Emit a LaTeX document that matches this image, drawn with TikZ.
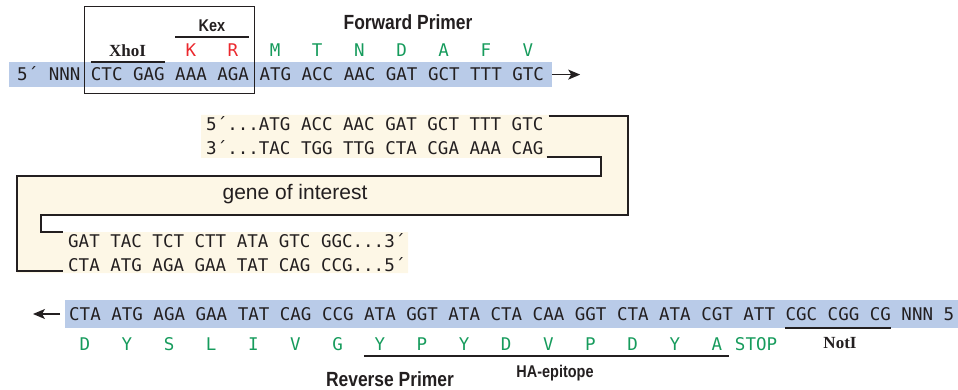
\documentclass[tikz,border=0pt]{standalone}
\usepackage{fontspec}
\setmainfont{Liberation Sans}
\newfontfamily\seqfont{DejaVu Sans Mono}
\newfontfamily\narrowfont[FakeStretch=0.85]{Liberation Sans}
\newfontfamily\enzymefont{Liberation Serif}
\usepackage{tikz}
\usetikzlibrary{arrows.meta}
\definecolor{bandblue}{RGB}{185,203,232}
\definecolor{cream}{RGB}{253,247,230}
\definecolor{aagreen}{RGB}{22,155,92}
\definecolor{aared}{RGB}{235,40,45}
\definecolor{ink}{RGB}{35,31,32}
\newcommand{\pch}{10.535}

\begin{document}
\begin{tikzpicture}[x=1pt, y=-1pt, >={Stealth[length=12pt,width=10pt,inset=3pt]}, ink,
	seq/.style={font=\seqfont\fontsize{17.5}{20}\selectfont, text=ink, inner sep=0pt, anchor=base west},
	band/.style={seq, fill=bandblue, inner xsep=8pt, text height=12.8pt, text depth=0pt},
	aa/.style={font=\seqfont\fontsize{17.5}{20}\selectfont, inner sep=0pt, anchor=base, text=aagreen},
	primer/.style={font=\narrowfont\bfseries\fontsize{20.5}{24}\selectfont, inner sep=0pt, anchor=base},
	tag/.style={font=\narrowfont\bfseries\fontsize{17}{20}\selectfont, inner sep=0pt, anchor=base},
	enzyme/.style={font=\enzymefont\bfseries\fontsize{17}{20}\selectfont, inner sep=0pt, anchor=base},
	strand/.style={line width=1.3pt},
	siteline/.style={line width=1.2pt}]
	\useasboundingbox (0,0) rectangle (958,390);

	% forward primer
	\node[band, inner ysep=6.1pt] (fwd) at (9,81) {5´ NNN CTC GAG AAA AGA ATG ACC AAC GAT GCT TTT GTC};
	\draw[->, line width=1.2pt] (fwd.east) -- ++(28pt,0pt);
	\draw[line width=1pt] (84,7) rectangle (254,94);
	\node[primer] (fwdlbl) at (408,30) {Forward Primer};
	\node[tag] (kex) at (212,32) {Kex};
	\draw[siteline] (175,37) -- (249,37);
	\node[enzyme] (xho) at (127.6,57) {XhoI};
	\draw[siteline] (90.7,62) -- (164.5,62);
	\foreach \a [count=\i from 2] in {K,R}
		\node[aa, text=aared] (k-\i) at ({17+(8.5+4*\i)*\pch},57) {\a};
	\foreach \a [count=\i from 4] in {M,T,N,D,A,F,V}
		\node[aa] (k-\i) at ({17+(8.5+4*\i)*\pch},57) {\a};

	% gene of interest
	\fill[cream] (201,115) -| (628,215) -| (41,232) -| (408,273) -| (17,176) -| (601,158) -| (201,115) -- cycle;
	\node[seq] (g5) at (206,131) {5´...ATG ACC AAC GAT GCT TTT GTC};
	\node[seq] (g3) at (206,154.5) {3´...TAC TGG TTG CTA CGA AAA CAG};
	\node[seq] (b3) at (68,247) {GAT TAC TCT CTT ATA GTC GGC...3´};
	\node[seq] (b5) at (68,271) {CTA ATG AGA GAA TAT CAG CCG...5´};
	\node[font=\fontsize{21}{24}\selectfont, inner sep=0pt, anchor=base] (goi) at (295,200) {gene of interest};
	\draw[strand] ([shift={(5pt,15pt)}]g5.base east) -| (628,215) -| (41,232) -- ([shift={(-5pt,15pt)}]b3.base west);
	\draw[strand] ([shift={(3pt,-2.5pt)}]g3.base east) -| (601,176) -| (17,271) -- ([xshift=-5pt]b5.base west);

	% reverse primer
	\node[band, inner xsep=4pt, inner ysep=7.6pt] (rev) at (65,320.4) {CTA ATG AGA GAA TAT CAG CCG ATA GGT ATA CTA CAA GGT CTA ATA CGT ATT CGC CGG CG NNN 5´};
	\draw[->, line width=1.2pt] ([xshift=-5pt]rev.west) -- ++(-27pt,0pt);
	\foreach \a [count=\i from 0] in {D,Y,S,L,I,V,G,Y,P,Y,D,V,P,D,Y,A}
		\node[aa] (r-\i) at ({69+(1.5+4*\i)*\pch},350) {\a};
	\node[aa] (stop) at ({69+65.5*\pch-3},350) {STOP};
	\draw[siteline] ({69+28*\pch},356) -- ({69+63*\pch-4},356);
	\node[tag] (ha) at (555,377) {HA-epitope};
	\draw[siteline] ({69+68*\pch},328) -- ({69+78*\pch},328);
	\node[enzyme] (noti) at (840,348) {NotI};
	\node[primer, text depth=0pt] (revlbl) at (390,386.5) {Reverse Primer};
\end{tikzpicture}
\end{document}
